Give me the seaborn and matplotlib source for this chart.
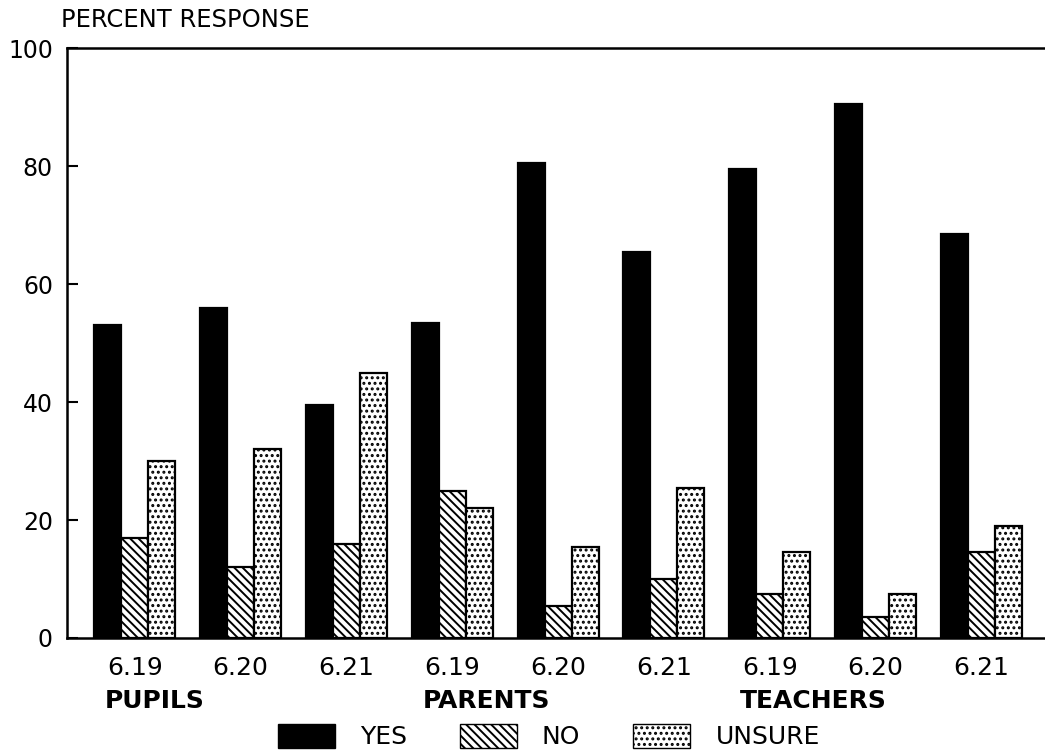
import seaborn as sns
import matplotlib.pyplot as plt
import matplotlib.transforms as mtransforms
from matplotlib.patches import Patch
import pandas as pd

# survey groups and years
groups = ["PUPILS", "PARENTS", "TEACHERS"]
years = ["6.19", "6.20", "6.21"]
responses = ["YES", "NO", "UNSURE"]

# percent response, in order pupils 6.19..6.21, parents ..., teachers ...
yes = [53, 56, 39.5, 53.5, 80.5, 65.5, 79.5, 90.5, 68.5]
no = [17, 12, 16, 25, 5.5, 10, 7.5, 3.5, 14.5]
unsure = [30, 32, 45, 22, 15.5, 25.5, 14.5, 7.5, 19]

items = [f"{g} {y}" for g in groups for y in years]
df = pd.DataFrame({
    "item": items * 3,
    "response": [r for r in responses for _ in items],
    "pct": yes + no + unsure,
})

sns.set_style("ticks")
plt.rcParams["font.family"] = ["DejaVu Sans"]
plt.rcParams["hatch.linewidth"] = 1.4
plt.rcParams["text.color"] = "black"
plt.rcParams["xtick.color"] = "black"
plt.rcParams["ytick.color"] = "black"
plt.rcParams["axes.edgecolor"] = "black"

fig = plt.figure(figsize=(10.45, 7.55), dpi=100)
ax = fig.add_axes([0.064, 0.155, 0.936, 0.781])

sns.barplot(data=df, x="item", y="pct", hue="response", order=items,
            hue_order=responses, palette=["black", "white", "white"],
            edgecolor="black", linewidth=1.6, width=0.765, gap=0,
            legend=False, ax=ax)

hatches = [None, "\\\\\\\\", "..."]
for cont, h in zip(ax.containers, hatches):
    for bar in cont:
        if h:
            bar.set_hatch(h)

ax.set_ylim(0, 100)
ax.set_xlim(-0.64, 8.6)
ax.set_yticks([0, 20, 40, 60, 80, 100])
ax.set_xticks(range(len(items)))
ax.set_xticklabels(years * 3)
ax.set_xlabel("")
ax.set_ylabel("")
ax.tick_params(axis="y", direction="in", length=8, width=1.5, labelsize=17, pad=10)
ax.tick_params(axis="x", length=0, labelsize=18, pad=13)

for side in ["left", "bottom", "top"]:
    ax.spines[side].set_linewidth(1.8)
ax.spines["right"].set_visible(False)

fig.text(0.058, 0.973, "PERCENT RESPONSE", ha="left", va="center", fontsize=17.5)

# group names under the year labels
trans = mtransforms.blended_transform_factory(ax.transData, ax.transAxes)
for i, g in enumerate(groups):
    ax.text(i * 3 - 0.28, -0.107, g, transform=trans,
            ha="left", va="center", fontsize=18, fontweight="bold")

leg_handles = [Patch(facecolor="black", edgecolor="black"),
               Patch(facecolor="white", edgecolor="black", hatch="\\\\\\\\"),
               Patch(facecolor="white", edgecolor="black", hatch="...")]
fig.legend(leg_handles, responses, loc="center", bbox_to_anchor=(0.525, 0.024),
           ncol=3, frameon=False, fontsize=18, handlelength=2.3, handleheight=1.05,
           columnspacing=2.1, handletextpad=1.0, borderpad=0)

fig.savefig("out.png", dpi=100)
